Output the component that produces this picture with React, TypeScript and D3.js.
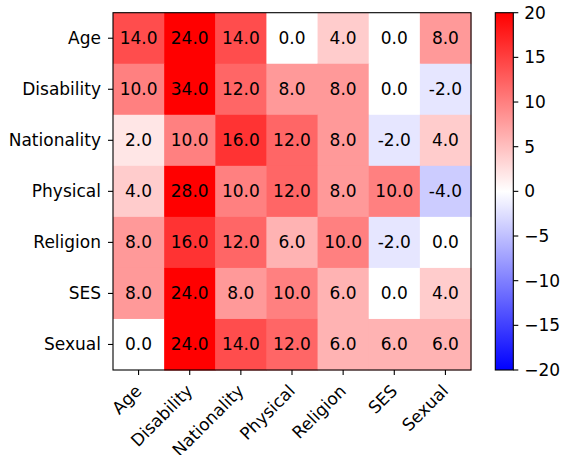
import { useEffect, useRef } from 'react';
import * as d3 from 'd3';

const categories = ['Age', 'Disability', 'Nationality', 'Physical', 'Religion', 'SES', 'Sexual'];

// rows follow the y axis order (top to bottom), columns follow the x axis order
const ageRow = [14, 24, 14, 0, 4, 0, 8];
const disabilityRow = [10, 34, 12, 8, 8, 0, -2];
const nationalityRow = [2, 10, 16, 12, 8, -2, 4];
const physicalRow = [4, 28, 10, 12, 8, 10, -4];
const religionRow = [8, 16, 12, 6, 10, -2, 0];
const sesRow = [8, 24, 8, 10, 6, 0, 4];
const sexualRow = [0, 24, 14, 12, 6, 6, 6];
const rows = [ageRow, disabilityRow, nationalityRow, physicalRow, religionRow, sesRow, sexualRow];

const colorbarTicks = [-20, -15, -10, -5, 0, 5, 10, 15, 20];

const fmtMinus = (s: string) => s.replace('-', '\u2212');

export default function App() {
  const ref = useRef<SVGSVGElement>(null);

  useEffect(() => {
    if (!ref.current) return;
    const svg = d3.select(ref.current);
    svg.selectAll('*').remove();

    const font = 'DejaVu Sans, sans-serif';
    const fs = '17px';
    const left = 113;
    const top = 12.7;
    const right = 471;
    const bottom = 370;

    const x = d3.scaleBand<string>().domain(categories).range([left, right]);
    const y = d3.scaleBand<string>().domain(categories).range([top, bottom]);
    const color = d3
      .scaleLinear<string>()
      .domain([-20, 0, 20])
      .range(['#0000ff', '#ffffff', '#ff0000'])
      .clamp(true);

    const cells = rows.flatMap((r, i) =>
      r.map((v, j) => ({ row: categories[i], col: categories[j], v }))
    );

    const g = svg.append('g');
    g.selectAll('rect.cell')
      .data(cells)
      .enter()
      .append('rect')
      .attr('class', 'cell')
      .attr('x', (d) => x(d.col)!)
      .attr('y', (d) => y(d.row)!)
      .attr('width', x.bandwidth() + 0.5)
      .attr('height', y.bandwidth() + 0.5)
      .attr('fill', (d) => color(d.v));

    g.selectAll('text.val')
      .data(cells)
      .enter()
      .append('text')
      .attr('class', 'val')
      .attr('x', (d) => x(d.col)! + x.bandwidth() / 2)
      .attr('y', (d) => y(d.row)! + y.bandwidth() / 2)
      .attr('text-anchor', 'middle')
      .attr('dominant-baseline', 'central')
      .style('font-family', font)
      .style('font-size', fs)
      .style('fill', '#000')
      .text((d) => d.v.toFixed(1));

    // frame
    svg.append('rect')
      .attr('x', left)
      .attr('y', top)
      .attr('width', right - left)
      .attr('height', bottom - top)
      .attr('fill', 'none')
      .attr('stroke', '#000')
      .attr('stroke-width', 1.1);

    // y axis
    const yAxis = svg.append('g');
    categories.forEach((c) => {
      const cy = y(c)! + y.bandwidth() / 2;
      yAxis.append('line')
        .attr('x1', left - 5)
        .attr('x2', left)
        .attr('y1', cy)
        .attr('y2', cy)
        .attr('stroke', '#000')
        .attr('stroke-width', 1.1);
      yAxis.append('text')
        .attr('x', left - 12)
        .attr('y', cy)
        .attr('text-anchor', 'end')
        .attr('dominant-baseline', 'central')
        .style('font-family', font)
        .style('font-size', fs)
        .style('fill', '#000')
        .text(c);
    });

    // x axis
    const xAxis = svg.append('g');
    categories.forEach((c) => {
      const cx = x(c)! + x.bandwidth() / 2;
      xAxis.append('line')
        .attr('x1', cx)
        .attr('x2', cx)
        .attr('y1', bottom)
        .attr('y2', bottom + 5)
        .attr('stroke', '#000')
        .attr('stroke-width', 1.1);
      xAxis.append('text')
        .attr('transform', `translate(${cx + 4},${bottom + 22}) rotate(-45)`)
        .attr('text-anchor', 'end')
        .style('font-family', font)
        .style('font-size', fs)
        .style('fill', '#000')
        .text(c);
    });

    // colorbar
    const cbLeft = 495.3;
    const cbW = 18;
    const cbScale = d3.scaleLinear().domain([-20, 20]).range([bottom, top]);
    const defs = svg.append('defs');
    const grad = defs
      .append('linearGradient')
      .attr('id', 'bwr')
      .attr('x1', 0)
      .attr('y1', 1)
      .attr('x2', 0)
      .attr('y2', 0);
    [-20, 0, 20].forEach((v) => {
      grad.append('stop')
        .attr('offset', `${((v + 20) / 40) * 100}%`)
        .attr('stop-color', color(v));
    });
    svg.append('rect')
      .attr('x', cbLeft)
      .attr('y', top)
      .attr('width', cbW)
      .attr('height', bottom - top)
      .attr('fill', 'url(#bwr)')
      .attr('stroke', '#000')
      .attr('stroke-width', 1.1);

    const cbAxis = svg.append('g');
    colorbarTicks.forEach((t) => {
      const ty = cbScale(t);
      cbAxis.append('line')
        .attr('x1', cbLeft + cbW)
        .attr('x2', cbLeft + cbW + 5)
        .attr('y1', ty)
        .attr('y2', ty)
        .attr('stroke', '#000')
        .attr('stroke-width', 1.1);
      cbAxis.append('text')
        .attr('x', cbLeft + cbW + 11)
        .attr('y', ty)
        .attr('dominant-baseline', 'central')
        .style('font-family', font)
        .style('font-size', fs)
        .style('fill', '#000')
        .text(fmtMinus(String(t)));
    });
  }, []);

  return (
    <div style={{ position: 'absolute', left: 0, top: 0, background: '#fff' }}>
      <svg ref={ref} width={562} height={455} style={{ display: 'block' }} />
    </div>
  );
}
